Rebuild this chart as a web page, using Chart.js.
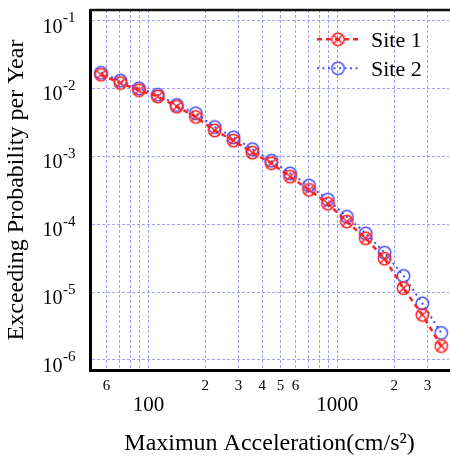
<!DOCTYPE html>
<html>
<head>
<meta charset="utf-8">
<script src="https://cdn.jsdelivr.net/npm/chart.js@4/dist/chart.umd.min.js"></script>
<style>
  html, body { margin: 0; padding: 0; background: #fff; }
  #c { display: block; }
</style>
</head>
<body>
<canvas id="c" width="450" height="459"></canvas>
<script>
// Peak ground acceleration levels (cm/s^2)
const accel = [56, 71, 89, 112, 141, 178, 224, 282, 355, 447, 562, 708, 891, 1122, 1413, 1778, 2239, 2818, 3548];

// Annual exceedance probability at each level
const site1Prob = [0.0159, 0.0120, 0.0094, 0.0076, 0.0054, 0.0038, 0.0024, 0.0017, 0.00113, 0.00079,
                   0.00050, 0.00032, 0.00020, 0.000109, 0.000062, 0.000031, 0.0000114, 0.0000046, 0.0000016];
const site2Prob = [0.0170, 0.0130, 0.0100, 0.0081, 0.0057, 0.0043, 0.0027, 0.0019, 0.00127, 0.00086,
                   0.00056, 0.00037, 0.00023, 0.000129, 0.000073, 0.000038, 0.0000173, 0.0000068, 0.0000025];

const seriesNames = ['Site 1', 'Site 2'];

// Axis grid positions and labels
const xGridValues = [60, 70, 80, 90, 100, 200, 300, 400, 500, 600, 700, 800, 900, 1000, 2000, 3000];
const xLabelValues = [60, 100, 200, 300, 400, 500, 600, 1000, 2000, 3000];
const xLabelTexts = ['6', '100', '2', '3', '4', '5', '6', '1000', '2', '3'];
const yTickValues = [1e-1, 1e-2, 1e-3, 1e-4, 1e-5, 1e-6];
const yTickExps = ['-1', '-2', '-3', '-4', '-5', '-6'];

const RED = 'rgb(255,32,32)';
const BLUE = 'rgb(72,80,255)';
const FONT = "'Liberation Serif', 'Times New Roman', serif";

// Hollow circle marker, optionally with a diagonal cross inside
function makeMarker(color, withCross) {
  const r = 6.2, lw = 1.5;
  const s = 17;
  const c = document.createElement('canvas');
  c.width = s; c.height = s;
  const g = c.getContext('2d');
  g.strokeStyle = color;
  g.lineWidth = lw;
  g.beginPath();
  g.arc(s / 2, s / 2, r, 0, Math.PI * 2);
  g.stroke();
  if (withCross) {
    const d = r * 0.66;
    g.beginPath();
    g.moveTo(s / 2 - d, s / 2 - d); g.lineTo(s / 2 + d, s / 2 + d);
    g.moveTo(s / 2 + d, s / 2 - d); g.lineTo(s / 2 - d, s / 2 + d);
    g.stroke();
  }
  return c;
}

const redMarker = makeMarker(RED, true);
const blueMarker = makeMarker(BLUE, false);

// Legend box in the upper right of the plot area
const legendInside = {
  id: 'legendInside',
  afterDraw(chart) {
    const { ctx, chartArea } = chart;
    chart.data.datasets.forEach((ds, i) => {
      const cy = chartArea.top + 29.3 + 29 * i;
      const x0 = chartArea.right - 132, x1 = chartArea.right - 91;
      const mx = chartArea.right - 111;
      ctx.save();
      ctx.strokeStyle = ds.borderColor;
      ctx.lineWidth = ds.borderWidth;
      ctx.setLineDash(ds.borderDash);
      ctx.beginPath();
      ctx.moveTo(x0, cy);
      ctx.lineTo(x1, cy);
      ctx.stroke();
      ctx.setLineDash([]);
      const img = ds.pointStyle;
      ctx.drawImage(img, mx - img.width / 2, cy - img.height / 2);
      ctx.fillStyle = '#000';
      ctx.font = '22px ' + FONT;
      ctx.textAlign = 'left';
      ctx.textBaseline = 'alphabetic';
      ctx.fillText(ds.label, chartArea.right - 78, cy + 7.5);
      ctx.restore();
    });
  }
};

// Tick labels: powers of ten on the y axis, two-tier digits on the x axis, plus the top frame line
const axisDecor = {
  id: 'axisDecor',
  afterDraw(chart) {
    const { ctx, chartArea, scales } = chart;
    ctx.save();
    ctx.fillStyle = '#000';
    yTickValues.forEach((v, i) => {
      const y = scales.y.getPixelForValue(v);
      ctx.textBaseline = 'alphabetic';
      ctx.font = '20px ' + FONT;
      ctx.textAlign = 'right';
      ctx.fillText('10', 62.5, y + 12);
      ctx.font = '15px ' + FONT;
      ctx.textAlign = 'left';
      ctx.fillText(yTickExps[i], 63, y + 1.5);
    });
    xLabelValues.forEach((v, i) => {
      const x = scales.x.getPixelForValue(v);
      const t = xLabelTexts[i];
      ctx.textAlign = 'center';
      ctx.textBaseline = 'alphabetic';
      if (t.length > 1) {
        ctx.font = '21px ' + FONT;
        ctx.fillText(t, x, chartArea.bottom + 41);
      } else {
        ctx.font = '15px ' + FONT;
        ctx.fillText(t, x, chartArea.bottom + 20);
      }
    });
    ctx.strokeStyle = '#111';
    ctx.lineWidth = 2.5;
    ctx.beginPath();
    ctx.moveTo(chartArea.left, chartArea.top);
    ctx.lineTo(chart.width, chartArea.top);
    ctx.stroke();
    ctx.restore();
  }
};

const gridStyle = { color: 'rgb(160,160,255)', lineWidth: 1, drawTicks: false };

new Chart(document.getElementById('c'), {
  type: 'line',
  data: {
    datasets: [
      {
        label: seriesNames[0],
        data: accel.map((a, i) => ({ x: a, y: site1Prob[i] })),
        borderColor: RED,
        backgroundColor: RED,
        borderWidth: 2.5,
        borderDash: [5, 4],
        pointStyle: redMarker,
        pointRadius: 6,
        tension: 0,
        fill: false
      },
      {
        label: seriesNames[1],
        data: accel.map((a, i) => ({ x: a, y: site2Prob[i] })),
        borderColor: BLUE,
        backgroundColor: BLUE,
        borderWidth: 2,
        borderDash: [2, 3.5],
        pointStyle: blueMarker,
        pointRadius: 6,
        tension: 0,
        fill: false
      }
    ]
  },
  options: {
    responsive: false,
    animation: false,
    devicePixelRatio: 1,
    layout: { autoPadding: false, padding: { top: 10, right: 1, left: 0, bottom: 0 } },
    plugins: { legend: { display: false }, tooltip: { enabled: false } },
    scales: {
      x: {
        type: 'logarithmic',
        min: 49,
        max: 3900,
        afterBuildTicks: (scale) => { scale.ticks = xGridValues.map(v => ({ value: v })); },
        afterFit: (scale) => { scale.height = 89; },
        ticks: { display: false, autoSkip: false },
        grid: gridStyle,
        border: { display: true, color: '#000', width: 3, dash: [3, 2] },
        title: {
          display: true,
          text: 'Maximun Acceleration(cm/s\u00B2)',
          color: '#000',
          font: { family: FONT, size: 24 },
          padding: { top: 0, bottom: 1 }
        }
      },
      y: {
        type: 'logarithmic',
        min: 7.1e-7,
        max: 0.143,
        afterBuildTicks: (scale) => { scale.ticks = yTickValues.map(v => ({ value: v })); },
        afterFit: (scale) => { scale.width = 90; },
        ticks: { display: false, autoSkip: false },
        grid: gridStyle,
        border: { display: true, color: '#000', width: 3, dash: [3, 2] },
        title: {
          display: true,
          text: 'Exceeding Probability per Year',
          color: '#000',
          font: { family: FONT, size: 24 },
          padding: { top: 2, bottom: 0 }
        }
      }
    }
  },
  plugins: [legendInside, axisDecor]
});
</script>
</body>
</html>
